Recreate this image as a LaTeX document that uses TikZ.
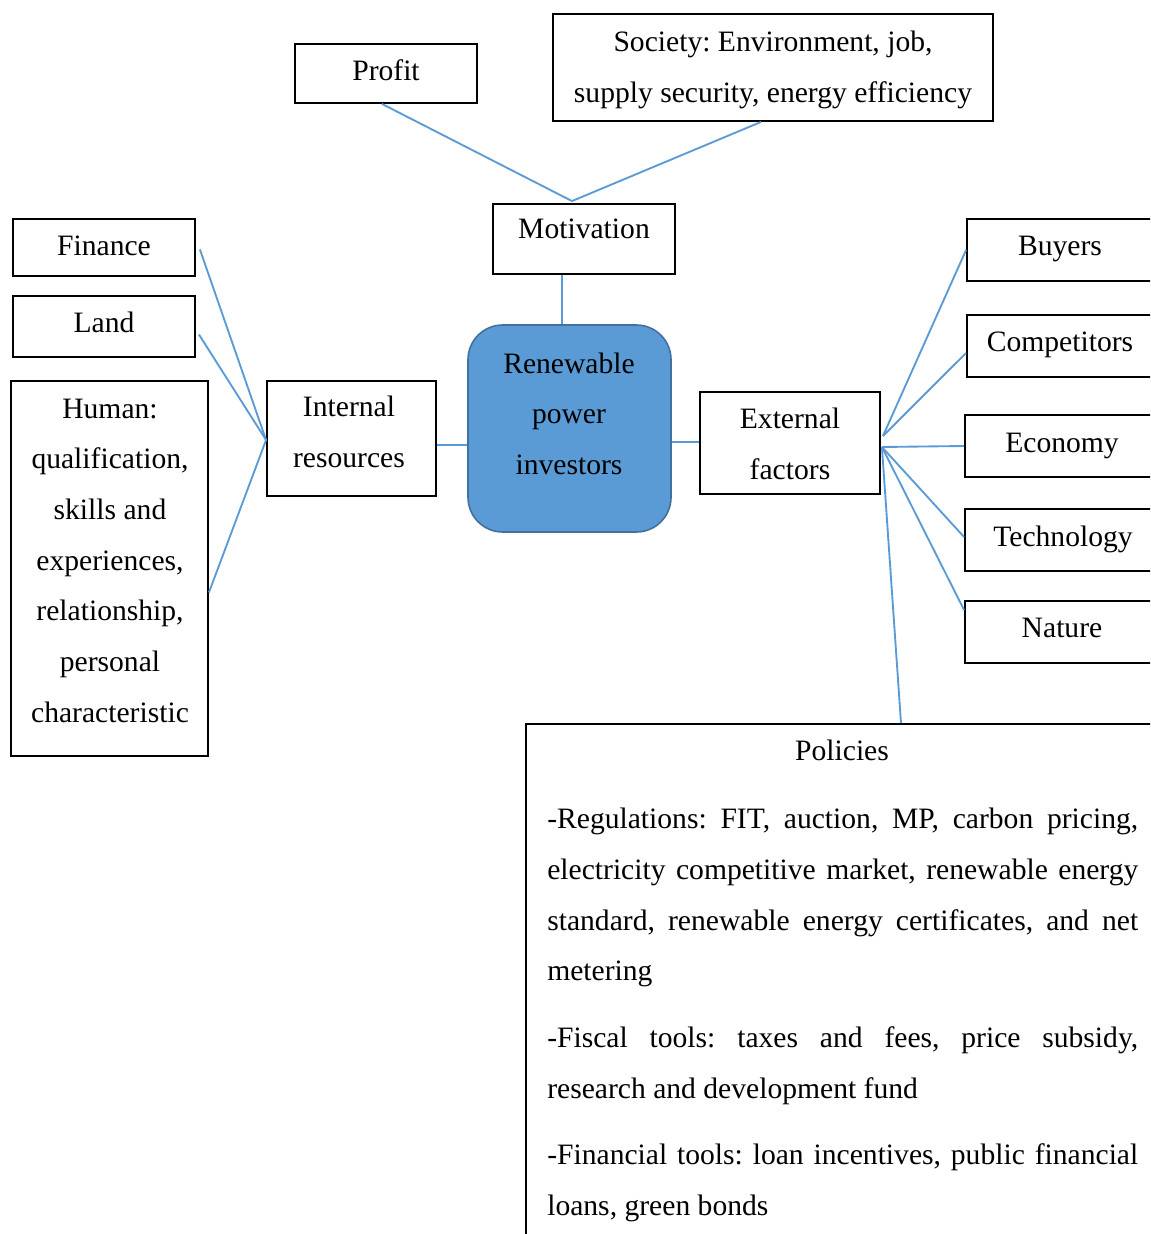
\documentclass[tikz,border=0pt]{standalone}
\usepackage{fontspec}
\setmainfont{Liberation Serif}
\usetikzlibrary{calc}
\definecolor{linkblue}{HTML}{5B9BD5}
\definecolor{corefill}{HTML}{5B9BD5}
\definecolor{coreedge}{HTML}{41719C}
\setlength{\parindent}{0pt}
\frenchspacing
% strut that keeps multi-line text centred on its lines
\newcommand\linestrut{\rule[-0.24em]{0pt}{1.14em}}
\begin{document}
\begin{tikzpicture}[x=0.75pt,y=-0.75pt,
  framebox/.style={draw=black, line width=1.4pt, rectangle, inner sep=0pt},
  txt/.style={align=center, inner sep=0pt, font=\fontsize{22.2}{38}\selectfont,
    execute at begin node=\linestrut, execute at end node=\linestrut},
  link/.style={draw=linkblue, line width=1.4pt}]
\useasboundingbox (0,0) rectangle (1150,1234);
\clip (0,0) rectangle (1150,1234);

% --- boxes ---
\node[framebox, minimum width=136.5pt, minimum height=44.25pt] (profit) at (386,73.5) {};
\node[framebox, minimum width=330pt, minimum height=80.25pt] (society) at (773,67.5) {};
\node[framebox, minimum width=136.5pt, minimum height=52.5pt] (motivation) at (584,239) {};
\node[draw=coreedge, fill=corefill, line width=1.2pt, rounded corners=26pt,
      minimum width=152.25pt, minimum height=155.25pt, inner sep=0pt] (rpi) at (569.5,428.5) {};
\node[framebox, minimum width=126.75pt, minimum height=86.25pt] (internal) at (351.5,438.5) {};
\node[framebox, minimum width=135pt, minimum height=76.5pt] (external) at (790,443) {};
\node[framebox, minimum width=136.5pt, minimum height=42.75pt] (finance) at (104,247.5) {};
\node[framebox, minimum width=136.5pt, minimum height=45.75pt] (land) at (104,326.5) {};
\node[framebox, minimum width=147.75pt, minimum height=281.25pt] (human) at (109.5,568.5) {};
\node[framebox, minimum width=144pt, minimum height=46.5pt] (buyers) at (1063,250) {};
\node[framebox, minimum width=144pt, minimum height=46.5pt] (competitors) at (1063,346) {};
\node[framebox, minimum width=144pt, minimum height=46.5pt] (economy) at (1061,446) {};
\node[framebox, minimum width=144pt, minimum height=46.5pt] (technology) at (1061,540) {};
\node[framebox, minimum width=144pt, minimum height=46.5pt] (nature) at (1061,632) {};
\node[framebox, minimum width=474pt, minimum height=394.5pt] (policies) at (842,987) {};

% --- texts ---
\node[txt] (profit-t) at (386,71) {Profit};
\node[txt] (society-t) at (773,70.5) {Society: Environment, job,\\supply security, energy efficiency};
\node[txt] (motivation-t) at (584,229) {Motivation};
\node[txt] (rpi-t) at (569,417) {Renewable\\power\\investors};
\node[txt] (internal-t) at (349,435) {Internal\\resources};
\node[txt] (external-t) at (790,447.5) {External\\factors};
\node[txt] (finance-t) at (104,246) {Finance};
\node[txt] (land-t) at (104,323) {Land};
\node[txt] (human-t) at (110,564) {Human:\\qualification,\\skills and\\experiences,\\relationship,\\personal\\characteristic};
\node[txt] (buyers-t) at (1060,246) {Buyers};
\node[txt] (competitors-t) at (1060,342) {Competitors};
\node[txt] (economy-t) at (1062,443) {Economy};
\node[txt] (technology-t) at (1063,537) {Technology};
\node[txt] (nature-t) at (1062,628) {Nature};
\node[txt] (policies-t) at (842,751) {Policies};
\node[txt, align=justify, text width=443.25pt, anchor=north west] (policies-body) at (547,802)
{-Regulations: FIT, auction, MP, carbon pricing,\linebreak
electricity competitive market, renewable energy\linebreak
standard, renewable energy certificates, and net\linebreak
metering\par\vspace{12pt}
-Fiscal tools: taxes and fees, price subsidy,\linebreak
research and development fund\par\vspace{12pt}
-Financial tools: loan incentives, public financial\linebreak
loans, green bonds};

% --- connectors ---
\coordinate (mhub) at ($(motivation.north)+(-12,-2)$);
\draw[link] ($(profit.south)+(-4,0)$) -- (mhub);
\draw[link] ($(society.south)+(-12,0)$) -- (mhub);
\draw[link] ($(motivation.south)+(-22,0)$) -- ($(rpi.north)+(-7.5,0)$);
\draw[link] ($(internal.east)+(0,6.5)$) -- ($(rpi.west)+(0,16.5)$);
\draw[link] ($(rpi.east)+(0,13.5)$) -- ($(external.west)+(0,-1)$);

\coordinate (ihub) at ($(internal.west)+(0,1.5)$);
\draw[link] ($(finance.east)+(4,2)$) -- (ihub);
\draw[link] ($(land.east)+(3,8)$) -- (ihub);
\draw[link] ($(human.east)+(0,24)$) -- (ihub);

\coordinate (ehub) at ($(external.east)+(1,4)$);
\coordinate (ehubtop) at ($(external.east)+(2,-7)$);
\draw[link] (ehubtop) -- (buyers.west);
\draw[link] (ehubtop) -- ($(competitors.west)+(0,7)$);
\draw[link] (ehub) -- (economy.west);
\draw[link] (ehub) -- ($(technology.west)+(0,-3)$);
\draw[link] (ehub) -- ($(nature.west)+(0,-22)$);
\draw[link] (ehub) -- ($(policies.north)+(59,0)$);
\end{tikzpicture}
\end{document}
